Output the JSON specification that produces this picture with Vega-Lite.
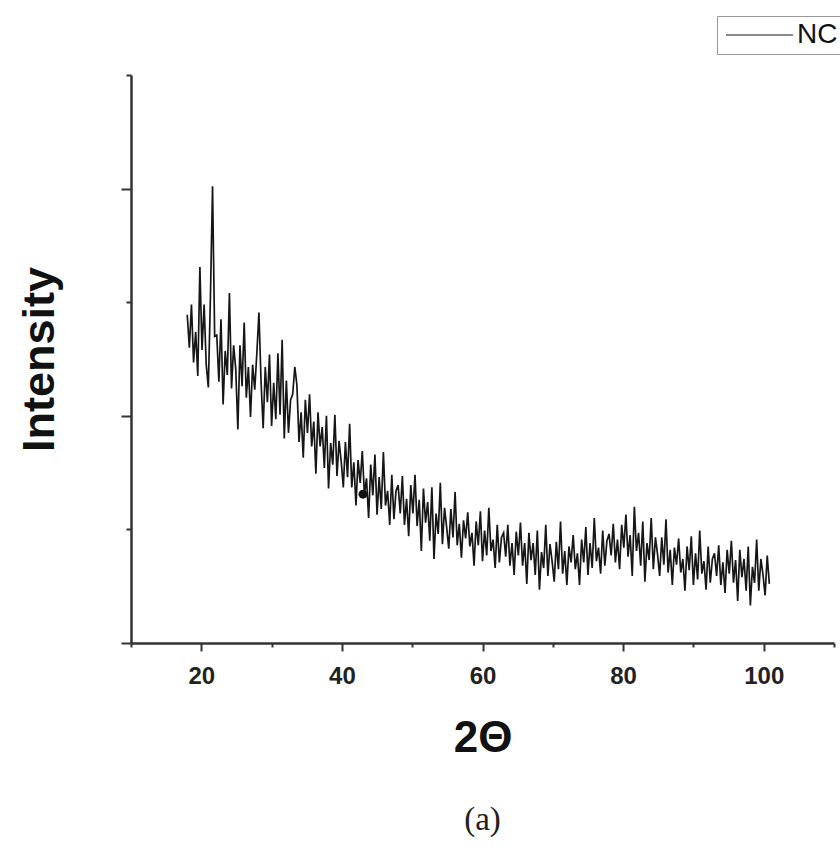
{
"$schema": "https://vega.github.io/schema/vega-lite/v6.json",
"width": 703,
"height": 568,
"autosize": "none",
"padding": {"left": 131, "top": 75, "right": 6, "bottom": 204},
"background": "white",
"config": {"view": {"stroke": null}, "font": "Liberation Sans"},
"title": {"text": "(a)", "orient": "bottom", "anchor": "middle", "frame": "group", "font": "Liberation Serif", "fontSize": 33, "fontWeight": "normal", "color": "#222", "offset": 44},
"datasets": {
"xrd": [
{"angle":18,"intensity":2.89},{"angle":18.3,"intensity":2.60},{"angle":18.6,"intensity":2.98},{"angle":18.9,"intensity":2.47},{"angle":19.2,"intensity":2.74},{"angle":19.5,"intensity":2.35},{"angle":19.8,"intensity":3.31},{"angle":20.1,"intensity":2.58},{"angle":20.4,"intensity":2.98},{"angle":20.7,"intensity":2.45},
{"angle":21,"intensity":2.25},{"angle":21.3,"intensity":3.05},{"angle":21.6,"intensity":4.02},{"angle":21.9,"intensity":2.70},{"angle":22.2,"intensity":2.71},{"angle":22.5,"intensity":2.30},{"angle":22.8,"intensity":2.85},{"angle":23.1,"intensity":2.10},{"angle":23.4,"intensity":2.57},{"angle":23.7,"intensity":2.36},
{"angle":24,"intensity":3.08},{"angle":24.3,"intensity":2.24},{"angle":24.6,"intensity":2.62},{"angle":24.9,"intensity":2.41},{"angle":25.2,"intensity":1.88},{"angle":25.5,"intensity":2.62},{"angle":25.8,"intensity":2.26},{"angle":26.1,"intensity":2.82},{"angle":26.4,"intensity":2.16},{"angle":26.7,"intensity":2.43},
{"angle":27,"intensity":1.99},{"angle":27.3,"intensity":2.45},{"angle":27.6,"intensity":2.23},{"angle":27.9,"intensity":2.55},{"angle":28.2,"intensity":2.91},{"angle":28.5,"intensity":2.30},{"angle":28.8,"intensity":1.89},{"angle":29.1,"intensity":2.43},{"angle":29.4,"intensity":2.12},{"angle":29.7,"intensity":2.54},
{"angle":30,"intensity":1.91},{"angle":30.3,"intensity":2.29},{"angle":30.6,"intensity":1.97},{"angle":30.9,"intensity":2.55},{"angle":31.2,"intensity":2.01},{"angle":31.5,"intensity":2.67},{"angle":31.8,"intensity":1.80},{"angle":32.1,"intensity":2.31},{"angle":32.4,"intensity":1.85},{"angle":32.7,"intensity":2.14},
{"angle":33,"intensity":2.19},{"angle":33.3,"intensity":2.43},{"angle":33.6,"intensity":2.27},{"angle":33.9,"intensity":1.77},{"angle":34.2,"intensity":2.03},{"angle":34.5,"intensity":1.63},{"angle":34.8,"intensity":2.14},{"angle":35.1,"intensity":1.85},{"angle":35.4,"intensity":2.19},{"angle":35.7,"intensity":1.73},
{"angle":36,"intensity":1.95},{"angle":36.3,"intensity":1.49},{"angle":36.6,"intensity":2.03},{"angle":36.9,"intensity":1.73},{"angle":37.2,"intensity":1.90},{"angle":37.5,"intensity":1.54},{"angle":37.8,"intensity":2.00},{"angle":38.1,"intensity":1.36},{"angle":38.4,"intensity":1.76},{"angle":38.7,"intensity":1.57},
{"angle":39,"intensity":2.01},{"angle":39.3,"intensity":1.47},{"angle":39.6,"intensity":1.78},{"angle":39.9,"intensity":1.60},{"angle":40.2,"intensity":1.37},{"angle":40.5,"intensity":1.77},{"angle":40.8,"intensity":1.46},{"angle":41.1,"intensity":1.93},{"angle":41.4,"intensity":1.37},{"angle":41.7,"intensity":1.59},
{"angle":42,"intensity":1.21},{"angle":42.3,"intensity":1.61},{"angle":42.6,"intensity":1.41},{"angle":42.9,"intensity":1.69},{"angle":43.2,"intensity":1.31},{"angle":43.5,"intensity":1.45},{"angle":43.8,"intensity":1.10},{"angle":44.1,"intensity":1.57},{"angle":44.4,"intensity":1.30},{"angle":44.7,"intensity":1.66},
{"angle":45,"intensity":1.13},{"angle":45.3,"intensity":1.46},{"angle":45.6,"intensity":1.18},{"angle":45.9,"intensity":1.68},{"angle":46.2,"intensity":1.21},{"angle":46.5,"intensity":1.34},{"angle":46.8,"intensity":1.04},{"angle":47.1,"intensity":1.48},{"angle":47.4,"intensity":1.09},{"angle":47.7,"intensity":1.34},
{"angle":48,"intensity":1.39},{"angle":48.3,"intensity":1.14},{"angle":48.6,"intensity":1.47},{"angle":48.9,"intensity":1.04},{"angle":49.2,"intensity":1.27},{"angle":49.5,"intensity":0.94},{"angle":49.8,"intensity":1.39},{"angle":50.1,"intensity":1.14},{"angle":50.4,"intensity":1.48},{"angle":50.7,"intensity":1.03},
{"angle":51,"intensity":1.26},{"angle":51.3,"intensity":0.81},{"angle":51.6,"intensity":1.36},{"angle":51.9,"intensity":1.06},{"angle":52.2,"intensity":1.24},{"angle":52.5,"intensity":0.90},{"angle":52.8,"intensity":1.37},{"angle":53.1,"intensity":0.74},{"angle":53.4,"intensity":1.14},{"angle":53.7,"intensity":0.96},
{"angle":54,"intensity":1.41},{"angle":54.3,"intensity":0.87},{"angle":54.6,"intensity":1.19},{"angle":54.9,"intensity":1.02},{"angle":55.2,"intensity":0.83},{"angle":55.5,"intensity":1.18},{"angle":55.8,"intensity":0.93},{"angle":56.1,"intensity":1.33},{"angle":56.4,"intensity":0.86},{"angle":56.7,"intensity":1.05},
{"angle":57,"intensity":0.75},{"angle":57.3,"intensity":1.08},{"angle":57.6,"intensity":0.92},{"angle":57.9,"intensity":1.15},{"angle":58.2,"intensity":0.85},{"angle":58.5,"intensity":0.97},{"angle":58.8,"intensity":0.68},{"angle":59.1,"intensity":1.07},{"angle":59.4,"intensity":0.86},{"angle":59.7,"intensity":1.16},
{"angle":60,"intensity":0.72},{"angle":60.3,"intensity":0.99},{"angle":60.6,"intensity":0.77},{"angle":60.9,"intensity":1.19},{"angle":61.2,"intensity":0.81},{"angle":61.5,"intensity":0.91},{"angle":61.8,"intensity":0.66},{"angle":62.1,"intensity":1.04},{"angle":62.4,"intensity":0.71},{"angle":62.7,"intensity":0.93},
{"angle":63,"intensity":0.97},{"angle":63.3,"intensity":0.76},{"angle":63.6,"intensity":1.04},{"angle":63.9,"intensity":0.68},{"angle":64.2,"intensity":0.88},{"angle":64.5,"intensity":0.60},{"angle":64.8,"intensity":0.98},{"angle":65.1,"intensity":0.77},{"angle":65.4,"intensity":1.06},{"angle":65.7,"intensity":0.68},
{"angle":66,"intensity":0.88},{"angle":66.3,"intensity":0.52},{"angle":66.6,"intensity":0.97},{"angle":66.9,"intensity":0.73},{"angle":67.2,"intensity":0.88},{"angle":67.5,"intensity":0.60},{"angle":67.8,"intensity":0.99},{"angle":68.1,"intensity":0.47},{"angle":68.4,"intensity":0.80},{"angle":68.7,"intensity":0.66},
{"angle":69,"intensity":1.04},{"angle":69.3,"intensity":0.59},{"angle":69.6,"intensity":0.87},{"angle":69.9,"intensity":0.72},{"angle":70.2,"intensity":0.54},{"angle":70.5,"intensity":0.89},{"angle":70.8,"intensity":0.65},{"angle":71.1,"intensity":1.07},{"angle":71.4,"intensity":0.61},{"angle":71.7,"intensity":0.81},
{"angle":72,"intensity":0.51},{"angle":72.3,"intensity":0.85},{"angle":72.6,"intensity":0.71},{"angle":72.9,"intensity":0.95},{"angle":73.2,"intensity":0.65},{"angle":73.5,"intensity":0.79},{"angle":73.8,"intensity":0.51},{"angle":74.1,"intensity":0.91},{"angle":74.4,"intensity":0.71},{"angle":74.7,"intensity":1.02},
{"angle":75,"intensity":0.60},{"angle":75.3,"intensity":0.88},{"angle":75.6,"intensity":0.66},{"angle":75.9,"intensity":1.10},{"angle":76.2,"intensity":0.72},{"angle":76.5,"intensity":0.84},{"angle":76.8,"intensity":0.61},{"angle":77.1,"intensity":0.99},{"angle":77.4,"intensity":0.68},{"angle":77.7,"intensity":0.90},
{"angle":78,"intensity":0.96},{"angle":78.3,"intensity":0.77},{"angle":78.6,"intensity":1.05},{"angle":78.9,"intensity":0.71},{"angle":79.2,"intensity":0.91},{"angle":79.5,"intensity":0.65},{"angle":79.8,"intensity":1.04},{"angle":80.1,"intensity":0.84},{"angle":80.4,"intensity":1.13},{"angle":80.7,"intensity":0.76},
{"angle":81,"intensity":0.95},{"angle":81.3,"intensity":0.59},{"angle":81.6,"intensity":1.20},{"angle":81.9,"intensity":0.81},{"angle":82.2,"intensity":0.97},{"angle":82.5,"intensity":0.68},{"angle":82.8,"intensity":1.07},{"angle":83.1,"intensity":0.54},{"angle":83.4,"intensity":0.88},{"angle":83.7,"intensity":0.73},
{"angle":84,"intensity":1.10},{"angle":84.3,"intensity":0.65},{"angle":84.6,"intensity":0.93},{"angle":84.9,"intensity":0.78},{"angle":85.2,"intensity":0.59},{"angle":85.5,"intensity":0.93},{"angle":85.8,"intensity":0.69},{"angle":86.1,"intensity":1.09},{"angle":86.4,"intensity":0.62},{"angle":86.7,"intensity":0.82},
{"angle":87,"intensity":0.51},{"angle":87.3,"intensity":0.84},{"angle":87.6,"intensity":0.69},{"angle":87.9,"intensity":0.92},{"angle":88.2,"intensity":0.62},{"angle":88.5,"intensity":0.74},{"angle":88.8,"intensity":0.46},{"angle":89.1,"intensity":0.85},{"angle":89.4,"intensity":0.64},{"angle":89.7,"intensity":0.94},
{"angle":90,"intensity":0.51},{"angle":90.3,"intensity":0.79},{"angle":90.6,"intensity":0.56},{"angle":90.9,"intensity":0.99},{"angle":91.2,"intensity":0.61},{"angle":91.5,"intensity":0.72},{"angle":91.8,"intensity":0.47},{"angle":92.1,"intensity":0.85},{"angle":92.4,"intensity":0.53},{"angle":92.7,"intensity":0.74},
{"angle":93,"intensity":0.79},{"angle":93.3,"intensity":0.59},{"angle":93.6,"intensity":0.86},{"angle":93.9,"intensity":0.51},{"angle":94.2,"intensity":0.71},{"angle":94.5,"intensity":0.44},{"angle":94.8,"intensity":0.82},{"angle":95.1,"intensity":0.61},{"angle":95.4,"intensity":0.90},{"angle":95.7,"intensity":0.53},
{"angle":96,"intensity":0.73},{"angle":96.3,"intensity":0.37},{"angle":96.6,"intensity":0.82},{"angle":96.9,"intensity":0.58},{"angle":97.2,"intensity":0.74},{"angle":97.5,"intensity":0.46},{"angle":97.8,"intensity":0.85},{"angle":98.1,"intensity":0.33},{"angle":98.4,"intensity":0.67},{"angle":98.7,"intensity":0.53},
{"angle":99,"intensity":0.91},{"angle":99.3,"intensity":0.46},{"angle":99.6,"intensity":0.74},{"angle":99.9,"intensity":0.60},{"angle":100.2,"intensity":0.42},{"angle":100.5,"intensity":0.77},{"angle":100.8,"intensity":0.52}
],
"dot": [{"angle": 43.0, "intensity": 1.31}]
},
"layer": [
{
"data": {"name": "xrd"},
"mark": {"type": "line", "strokeWidth": 1.7},
"encoding": {
"x": {"field": "angle", "type": "quantitative", "scale": {"domain": [10, 110], "nice": false, "zero": false},
"axis": {"orient": "bottom", "values": [20, 40, 60, 80, 100], "title": "2Θ", "titleFont": "Liberation Sans", "titleFontSize": 44, "titleFontWeight": "bold", "titleColor": "#111", "titlePadding": 28, "labelFont": "Liberation Sans", "labelFontSize": 24, "labelFontWeight": "bold", "labelColor": "#222", "labelPadding": 13, "labelFlush": false, "tickSize": 8, "tickWidth": 2, "tickColor": "#333", "domainColor": "#333", "domainWidth": 2.5, "grid": false}},
"y": {"field": "intensity", "type": "quantitative", "scale": {"domain": [0, 5], "nice": false, "zero": false},
"axis": {"orient": "left", "values": [0, 2, 4], "labels": false, "title": "Intensity", "titleFont": "Liberation Sans", "titleFontSize": 45, "titleFontWeight": "bold", "titleColor": "#111", "titlePadding": 58, "tickSize": 10, "tickWidth": 2, "tickColor": "#333", "domainColor": "#333", "domainWidth": 2.5, "grid": false}},
"color": {"datum": "NC", "type": "nominal", "scale": {"range": ["#161616"]},
"legend": {"orient": "none", "legendX": 586, "legendY": -59, "title": null, "labelFont": "Liberation Sans", "labelFontSize": 28, "labelColor": "#111", "labelFontWeight": "normal", "symbolType": "M-1,0H5.7", "symbolSize": 400, "symbolStrokeWidth": 1.2, "symbolStrokeColor": "#888", "labelOffset": 47, "padding": 5, "strokeColor": "#999", "fillColor": "white"}}
}
},
{
"data": {"name": "xrd"},
"mark": {"type": "point", "opacity": 0},
"encoding": {
"x": {"field": "angle", "type": "quantitative", "axis": {"orient": "bottom", "values": [10, 30, 50, 70, 90, 110], "labels": false, "domain": false, "title": null, "tickSize": 4, "tickWidth": 2, "tickColor": "#333", "grid": false}},
"y": {"field": "intensity", "type": "quantitative", "axis": {"orient": "left", "values": [1, 3, 5], "labels": false, "domain": false, "title": null, "tickSize": 5, "tickWidth": 2, "tickColor": "#333", "grid": false}}
}
},
{
"data": {"name": "dot"},
"mark": {"type": "circle", "size": 80, "color": "#111", "opacity": 1},
"encoding": {
"x": {"field": "angle", "type": "quantitative", "axis": null},
"y": {"field": "intensity", "type": "quantitative", "axis": null}
}
}
],
"resolve": {"axis": {"x": "independent", "y": "independent"}}
}
